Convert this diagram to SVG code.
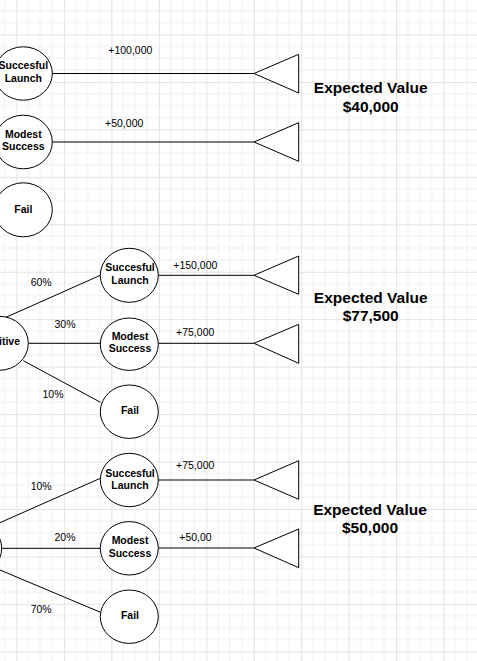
<svg xmlns="http://www.w3.org/2000/svg" width="477" height="661" viewBox="0 0 477 661">
<style>
.n ellipse{fill:#fff;stroke:#000;stroke-width:1}
.t polygon{fill:#fff;stroke:#000;stroke-width:1}
.e line{stroke:#000;stroke-width:1;fill:none}
text{font-family:"Liberation Sans",Arial,sans-serif;fill:#000}
.nl{font-size:10.5px;font-weight:bold;text-anchor:middle}
.el{font-size:10.5px;text-anchor:middle}
.ev{font-size:15.5px;font-weight:bold;text-anchor:middle}
</style>
<defs>
<pattern id="grid" patternUnits="userSpaceOnUse" x="16.5" y="34.5" width="47.45" height="47.45">
<rect x="11.36" y="0" width="1" height="47.45" fill="#f0f0f0"/>
<rect x="23.22" y="0" width="1" height="47.45" fill="#f0f0f0"/>
<rect x="35.09" y="0" width="1" height="47.45" fill="#f0f0f0"/>
<rect x="0" y="11.36" width="47.45" height="1" fill="#f0f0f0"/>
<rect x="0" y="23.22" width="47.45" height="1" fill="#f0f0f0"/>
<rect x="0" y="35.09" width="47.45" height="1" fill="#f0f0f0"/>
<rect x="0" y="0" width="1" height="47.45" fill="#e3e3e3"/>
<rect x="0" y="0" width="47.45" height="1" fill="#e3e3e3"/>
</pattern>
</defs>
<rect width="477" height="661" fill="#fff"/>
<rect width="477" height="661" fill="url(#grid)"/>

<g id="connectors" class="e">
<line x1="52.3" y1="73.5" x2="254" y2="73.5"/>
<line x1="52.3" y1="142" x2="254" y2="142"/>
<line x1="6" y1="317.3" x2="100.3" y2="275.3"/>
<line x1="28.3" y1="343.3" x2="100.2" y2="343.3"/>
<line x1="23.3" y1="360.7" x2="100.5" y2="402.3"/>
<line x1="158.3" y1="275.3" x2="254" y2="275.3"/>
<line x1="158.3" y1="343.3" x2="254" y2="343.3"/>
<line x1="-10" y1="527.1" x2="100.3" y2="478.3"/>
<line x1="1.7" y1="548.3" x2="100.2" y2="548.3"/>
<line x1="-10" y1="565.8" x2="100.5" y2="612.3"/>
<line x1="158.3" y1="480" x2="254" y2="480"/>
<line x1="158.3" y1="548" x2="254" y2="548"/>
</g>

<g id="edge-labels">
<text class="el" x="130.3" y="54.3">+100,000</text>
<text class="el" x="124.2" y="126.7">+50,000</text>
<text class="el" x="195.3" y="269.3">+150,000</text>
<text class="el" x="195.2" y="336">+75,000</text>
<text class="el" x="195.2" y="469.3">+75,000</text>
<text class="el" x="195.5" y="540.7">+50,00</text>
<text class="el" x="41.2" y="285.7">60%</text>
<text class="el" x="65" y="328.3">30%</text>
<text class="el" x="53" y="398.3">10%</text>
<text class="el" x="41.2" y="490">10%</text>
<text class="el" x="65" y="540.7">20%</text>
<text class="el" x="41.2" y="612.7">70%</text>
</g>

<g id="top-launch" class="n"><ellipse cx="23.3" cy="73.5" rx="29" ry="26.7"/><text class="nl" x="23.3" y="69.2">Succesful</text><text class="nl" x="23.3" y="82">Launch</text></g>
<g id="top-modest" class="n"><ellipse cx="23.3" cy="142" rx="29" ry="26.8"/><text class="nl" x="23.3" y="137.6">Modest</text><text class="nl" x="23.3" y="150.4">Success</text></g>
<g id="top-fail" class="n"><ellipse cx="23.3" cy="209.8" rx="29" ry="27"/><text class="nl" x="23.3" y="212.7">Fail</text></g>

<g id="mid-root" class="n"><ellipse cx="-0.7" cy="343.3" rx="29" ry="27"/><text x="-1" y="345" style="font-size:10.5px;font-weight:bold">itive</text></g>
<g id="mid-launch" class="n"><ellipse cx="129.3" cy="275.3" rx="29" ry="27"/><text class="nl" x="130" y="271">Succesful</text><text class="nl" x="130" y="284">Launch</text></g>
<g id="mid-modest" class="n"><ellipse cx="129.3" cy="344.2" rx="29" ry="26.2"/><text class="nl" x="130" y="339.5">Modest</text><text class="nl" x="130" y="352.3">Success</text></g>
<g id="mid-fail" class="n"><ellipse cx="129.3" cy="411.7" rx="29" ry="26.7"/><text class="nl" x="130" y="413.7">Fail</text></g>

<g id="bot-root" class="n"><ellipse cx="-27.3" cy="548.3" rx="29" ry="27"/></g>
<g id="bot-launch" class="n"><ellipse cx="129.3" cy="480" rx="29" ry="26.7"/><text class="nl" x="130" y="476.7">Succesful</text><text class="nl" x="130" y="489.3">Launch</text></g>
<g id="bot-modest" class="n"><ellipse cx="129.3" cy="548.3" rx="29" ry="26.7"/><text class="nl" x="130" y="544">Modest</text><text class="nl" x="130" y="556.5">Success</text></g>
<g id="bot-fail" class="n"><ellipse cx="129.3" cy="616.7" rx="29" ry="26.7"/><text class="nl" x="130" y="619.2">Fail</text></g>

<g id="term-1" class="t"><polygon points="254,73.5 298.7,54.3 298.7,93"/></g>
<g id="term-2" class="t"><polygon points="254,142 298.7,122.7 298.7,161.3"/></g>
<g id="term-3" class="t"><polygon points="254,275.3 298.7,256 298.7,294.3"/></g>
<g id="term-4" class="t"><polygon points="254,343.3 298.7,324.3 298.7,363.3"/></g>
<g id="term-5" class="t"><polygon points="254,480 298.7,460.7 298.7,499.3"/></g>
<g id="term-6" class="t"><polygon points="254,548 298.7,529 298.7,567.7"/></g>

<g id="ev-1"><text class="ev" x="370.7" y="93.3">Expected Value</text><text class="ev" x="370.7" y="112">$40,000</text></g>
<g id="ev-2"><text class="ev" x="370.7" y="302.7">Expected Value</text><text class="ev" x="370.7" y="321">$77,500</text></g>
<g id="ev-3"><text class="ev" x="370" y="514.7">Expected Value</text><text class="ev" x="370" y="533.3">$50,000</text></g>
</svg>
